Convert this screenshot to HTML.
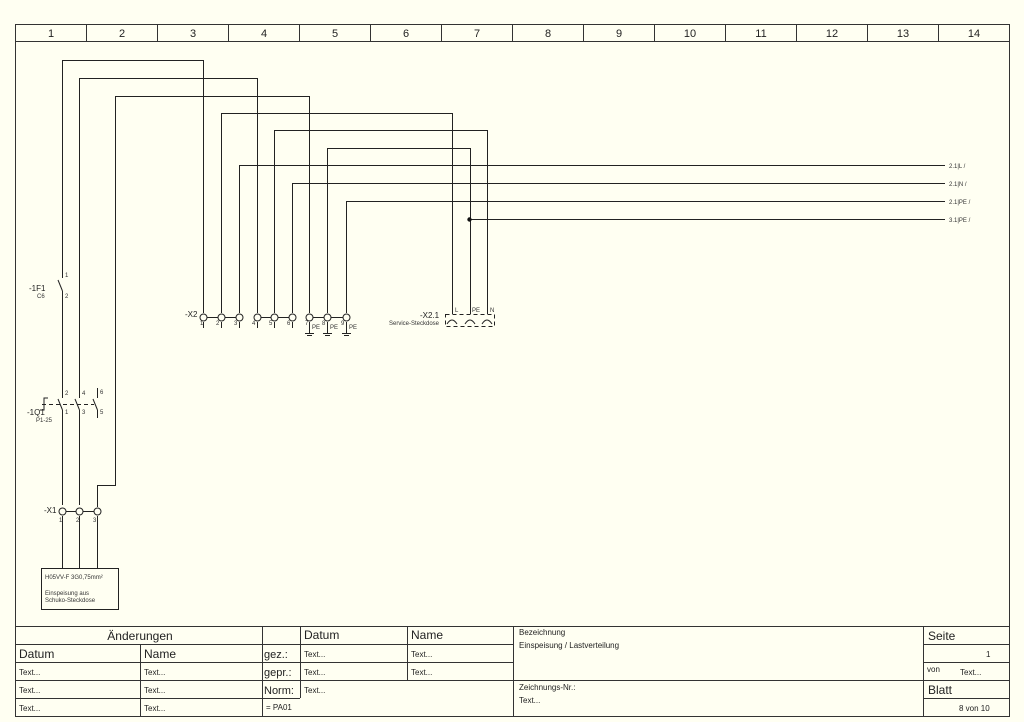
<!DOCTYPE html>
<html><head><meta charset="utf-8"><style>
html,body{margin:0;padding:0;background:#fffff2;}
svg{display:block;font-family:"Liberation Sans",sans-serif;}
</style></head><body>
<svg width="1024" height="722" viewBox="0 0 1024 722" xmlns="http://www.w3.org/2000/svg">
<rect width="1024" height="722" fill="#fffff2"/>
<g stroke="#333" stroke-width="1" fill="none">
<rect x="15.5" y="24.5" width="994" height="692"/>
<line x1="15" y1="41.5" x2="1009" y2="41.5"/>
<line x1="86.5" y1="24" x2="86.5" y2="41"/><line x1="157.5" y1="24" x2="157.5" y2="41"/>
<line x1="228.5" y1="24" x2="228.5" y2="41"/><line x1="299.5" y1="24" x2="299.5" y2="41"/>
<line x1="370.5" y1="24" x2="370.5" y2="41"/><line x1="441.5" y1="24" x2="441.5" y2="41"/>
<line x1="512.5" y1="24" x2="512.5" y2="41"/><line x1="583.5" y1="24" x2="583.5" y2="41"/>
<line x1="654.5" y1="24" x2="654.5" y2="41"/><line x1="725.5" y1="24" x2="725.5" y2="41"/>
<line x1="796.5" y1="24" x2="796.5" y2="41"/><line x1="867.5" y1="24" x2="867.5" y2="41"/>
<line x1="938.5" y1="24" x2="938.5" y2="41"/>
</g>
<g font-size="11" fill="#222" text-anchor="middle">
<text x="51" y="37">1</text><text x="122" y="37">2</text><text x="193" y="37">3</text><text x="264" y="37">4</text>
<text x="335" y="37">5</text><text x="406" y="37">6</text><text x="477" y="37">7</text><text x="548" y="37">8</text>
<text x="619" y="37">9</text><text x="690" y="37">10</text><text x="761" y="37">11</text><text x="832" y="37">12</text>
<text x="903" y="37">13</text><text x="974" y="37">14</text>
</g>
<!-- wires -->
<g stroke="#222" stroke-width="1" fill="none">
<polyline points="62.5,278 62.5,60.5 203.5,60.5 203.5,313"/>
<polyline points="79.5,398 79.5,78.5 257.5,78.5 257.5,313"/>
<polyline points="115.5,398 115.5,96.5 309.5,96.5 309.5,313"/>
<polyline points="221.5,313 221.5,113.5 452.5,113.5 452.5,314"/>
<polyline points="274.5,313 274.5,130.5 487.5,130.5 487.5,314"/>
<polyline points="327.5,313 327.5,148.5 470.5,148.5 470.5,314"/>
<polyline points="239.5,313 239.5,165.5 945,165.5"/>
<polyline points="292.5,313 292.5,183.5 945,183.5"/>
<polyline points="346.5,313 346.5,201.5 945,201.5"/>
<line x1="470" y1="219.5" x2="945" y2="219.5"/>
<!-- F1 -->
<line x1="62.5" y1="291" x2="62.5" y2="398"/>
<line x1="62.5" y1="291" x2="58" y2="280"/>
<!-- Q1 lower -->
<line x1="62.5" y1="410" x2="62.5" y2="505"/>
<line x1="79.5" y1="410" x2="79.5" y2="505"/>
<line x1="62.5" y1="410" x2="58" y2="399"/>
<line x1="79.5" y1="410" x2="75" y2="399"/>
<line x1="97.5" y1="388" x2="97.5" y2="398"/><line x1="97.5" y1="410" x2="97.5" y2="418"/>
<line x1="97.5" y1="410" x2="93" y2="399"/>
<line x1="42" y1="404.5" x2="94" y2="404.5" stroke-dasharray="4,3"/>
<polyline points="40,410 44,410 44,398 48,398"/>
<polyline points="115.5,398 115.5,485.5 97.5,485.5 97.5,507"/>
<!-- X1 -->
<line x1="62" y1="511.5" x2="97" y2="511.5"/>
<line x1="62.5" y1="516" x2="62.5" y2="568"/>
<line x1="79.5" y1="516" x2="79.5" y2="568"/>
<line x1="97.5" y1="516" x2="97.5" y2="568"/>
<rect x="41.5" y="568.5" width="77" height="41"/>
<!-- X2 -->
<line x1="203" y1="317.5" x2="239" y2="317.5"/>
<line x1="257" y1="317.5" x2="292" y2="317.5"/>
<line x1="309" y1="317.5" x2="346" y2="317.5"/>
<line x1="203.5" y1="322" x2="203.5" y2="328"/><line x1="221.5" y1="322" x2="221.5" y2="328"/><line x1="239.5" y1="322" x2="239.5" y2="328"/>
<line x1="257.5" y1="322" x2="257.5" y2="328"/><line x1="274.5" y1="322" x2="274.5" y2="328"/><line x1="292.5" y1="322" x2="292.5" y2="328"/>
<line x1="309.5" y1="322" x2="309.5" y2="333"/><line x1="327.5" y1="322" x2="327.5" y2="333"/><line x1="346.5" y1="322" x2="346.5" y2="333"/>
<line x1="305" y1="333.5" x2="314" y2="333.5"/><line x1="307" y1="335.5" x2="312" y2="335.5"/>
<line x1="323" y1="333.5" x2="332" y2="333.5"/><line x1="325" y1="335.5" x2="330" y2="335.5"/>
<line x1="342" y1="333.5" x2="351" y2="333.5"/><line x1="344" y1="335.5" x2="349" y2="335.5"/>
<!-- X2.1 -->
<rect x="445.5" y="314.5" width="49" height="12" stroke-dasharray="4,3"/>
<path d="M447 324 Q452 316 457 324 M465 324 Q470 316 475 324 M482 324 Q487 316 492 324"/>
</g>
<g fill="#fffff2" stroke="#222">
<circle cx="203.5" cy="317.5" r="3.5"/><circle cx="221.5" cy="317.5" r="3.5"/><circle cx="239.5" cy="317.5" r="3.5"/>
<circle cx="257.5" cy="317.5" r="3.5"/><circle cx="274.5" cy="317.5" r="3.5"/><circle cx="292.5" cy="317.5" r="3.5"/>
<circle cx="309.5" cy="317.5" r="3.5"/><circle cx="327.5" cy="317.5" r="3.5"/><circle cx="346.5" cy="317.5" r="3.5"/>
<circle cx="62.5" cy="511.5" r="3.5"/><circle cx="79.5" cy="511.5" r="3.5"/><circle cx="97.5" cy="511.5" r="3.5"/>
</g>
<circle cx="469.5" cy="219.5" r="2.2" fill="#111"/>
<g font-size="6" fill="#333">
<text x="949" y="168">2.1|L /</text><text x="949" y="186">2.1|N /</text>
<text x="949" y="204">2.1|PE /</text><text x="949" y="222">3.1|PE /</text>
<text x="65" y="277">1</text><text x="65" y="298">2</text><text x="37" y="298">C6</text>
<text x="65" y="395">2</text><text x="82" y="395">4</text><text x="100" y="394">6</text>
<text x="65" y="414">1</text><text x="82" y="414">3</text><text x="100" y="414">5</text>
<text x="36" y="422">P1-25</text>
<text x="59" y="522">1</text><text x="76" y="522">2</text><text x="93" y="522">3</text>
<text x="216" y="325">2</text><text x="234" y="325">3</text><text x="252" y="325">4</text>
<text x="269" y="325">5</text><text x="287" y="325">6</text><text x="305" y="325">7</text>
<text x="322" y="325">8</text><text x="341" y="325">9</text><text x="200" y="325">1</text>
<text x="312" y="329">PE</text><text x="330" y="329">PE</text><text x="349" y="329">PE</text>
<text x="455" y="312">L</text><text x="472" y="312">PE</text><text x="490" y="312">N</text>
<text x="389" y="325">Service-Steckdose</text>
<text x="45" y="579">H05VV-F 3G0,75mm²</text>
<text x="45" y="595">Einspeisung aus</text><text x="45" y="602">Schuko-Steckdose</text>
</g>
<g font-size="8" fill="#222">
<text x="29" y="291">-1F1</text><text x="27" y="415">-1Q1</text>
<text x="44" y="513">-X1</text><text x="185" y="317">-X2</text><text x="420" y="318">-X2.1</text>
</g>
<!-- title block -->
<g stroke="#333" stroke-width="1" fill="none">
<line x1="15" y1="626.5" x2="1009" y2="626.5"/>
<line x1="15" y1="644.5" x2="513" y2="644.5"/><line x1="923" y1="644.5" x2="1009" y2="644.5"/>
<line x1="15" y1="662.5" x2="513" y2="662.5"/><line x1="923" y1="662.5" x2="1009" y2="662.5"/>
<line x1="15" y1="680.5" x2="1009" y2="680.5"/>
<line x1="15" y1="698.5" x2="300" y2="698.5"/><line x1="923" y1="698.5" x2="1009" y2="698.5"/>
<line x1="140.5" y1="644" x2="140.5" y2="716"/>
<line x1="262.5" y1="626" x2="262.5" y2="716"/>
<line x1="300.5" y1="626" x2="300.5" y2="698"/>
<line x1="407.5" y1="626" x2="407.5" y2="680"/>
<line x1="513.5" y1="626" x2="513.5" y2="716"/>
<line x1="923.5" y1="626" x2="923.5" y2="716"/>
</g>
<g fill="#222">
<text x="140" y="640" font-size="12" text-anchor="middle">Änderungen</text>
<text x="304" y="639" font-size="12">Datum</text><text x="411" y="639" font-size="12">Name</text>
<text x="19" y="658" font-size="12">Datum</text><text x="144" y="658" font-size="12">Name</text>
<text x="264" y="658" font-size="11">gez.:</text><text x="264" y="676" font-size="11">gepr.:</text><text x="264" y="694" font-size="11">Norm:</text>
<text x="928" y="640" font-size="12">Seite</text><text x="928" y="694" font-size="12">Blatt</text>
<g font-size="8">
<text x="304" y="657">Text...</text><text x="411" y="657">Text...</text>
<text x="304" y="675">Text...</text><text x="411" y="675">Text...</text>
<text x="304" y="693">Text...</text><text x="266" y="710">= PA01</text>
<text x="19" y="675">Text...</text><text x="144" y="675">Text...</text>
<text x="19" y="693">Text...</text><text x="144" y="693">Text...</text>
<text x="19" y="711">Text...</text><text x="144" y="711">Text...</text>
<text x="519" y="635">Bezeichnung</text><text x="519" y="648">Einspeisung / Lastverteilung</text>
<text x="519" y="690">Zeichnungs-Nr.:</text><text x="519" y="703">Text...</text>
<text x="986" y="657">1</text><text x="927" y="672">von</text><text x="960" y="675">Text...</text>
<text x="959" y="711">8 von 10</text>
</g></g>
</svg>
</body></html>
